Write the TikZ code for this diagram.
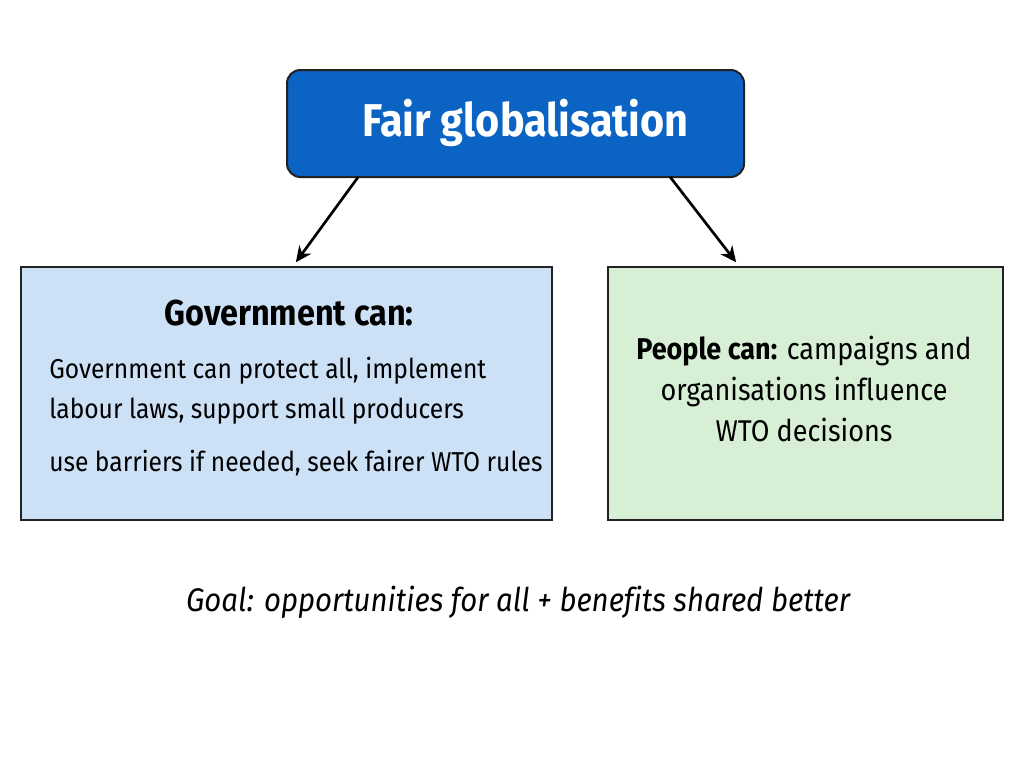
\documentclass[tikz,border=0pt]{standalone}
\usepackage{fontspec}
\setmainfont{Fira Sans}[FakeStretch=0.9, Ligatures=NoCommon]
\usetikzlibrary{arrows.meta,positioning}
\definecolor{topblue}{HTML}{0B63C4}
\definecolor{govblue}{HTML}{CCE1F6}
\definecolor{peoplegreen}{HTML}{D6EFD5}
\definecolor{edgegray}{HTML}{222222}
\tikzset{
	boxbase/.style={draw=edgegray, line width=1.5pt, inner sep=0pt, outer sep=0pt},
	link/.style={-{Stealth[length=12pt,width=11pt]}, line width=2pt, black}
}
\begin{document}
\begin{tikzpicture}[x=0.75pt, y=-0.75pt, TextStyle/.style={text=black}]
		\useasboundingbox[fill=white] (0,0) rectangle (1024,768);
		\node[boxbase, fill=topblue, rounded corners=10pt, minimum width=342.75pt, minimum height=80.25pt] (top) at (515.5,123.5) {};
		\node[text=white, font=\fontsize{34.5}{40}\selectfont\bfseries] (toptext) at (525.5,123) {Fair globalisation};
		\node[boxbase, fill=govblue, minimum width=398.25pt, minimum height=189.75pt] (gov) at (286.5,393.5) {};
		\node[boxbase, fill=peoplegreen, minimum width=296.25pt, minimum height=189.75pt] (people) at (805.5,393.5) {};
		\node[TextStyle, font=\fontsize{27}{30}\selectfont\bfseries] (govhead) at (289,313) {Government can:};
		\node[TextStyle, align=left, anchor=north west, inner sep=0pt, font=\fontsize{20.5}{30}\selectfont] (govbody) at (49,357) {Government can protect all, implement\\labour laws, support small producers\\[10pt]use barriers if needed, seek fairer WTO rules};
		\node[TextStyle, align=center, font=\fontsize{22.5}{31}\selectfont] (peoplebody) at (804,389) {\textbf{People can:} campaigns and\\organisations influence\\WTO decisions};
		\draw[link] ([xshift=-118pt]top.south) to ([xshift=7pt,yshift=3.5pt]gov.north);
		\draw[link] ([xshift=116pt]top.south) to ([xshift=-52pt,yshift=3.5pt]people.north);
		\node[TextStyle, font=\fontsize{24.5}{28}\selectfont\itshape] (goal) at (518,602) {Goal: opportunities for all + benefits shared better};
	\end{tikzpicture}
\end{document}
